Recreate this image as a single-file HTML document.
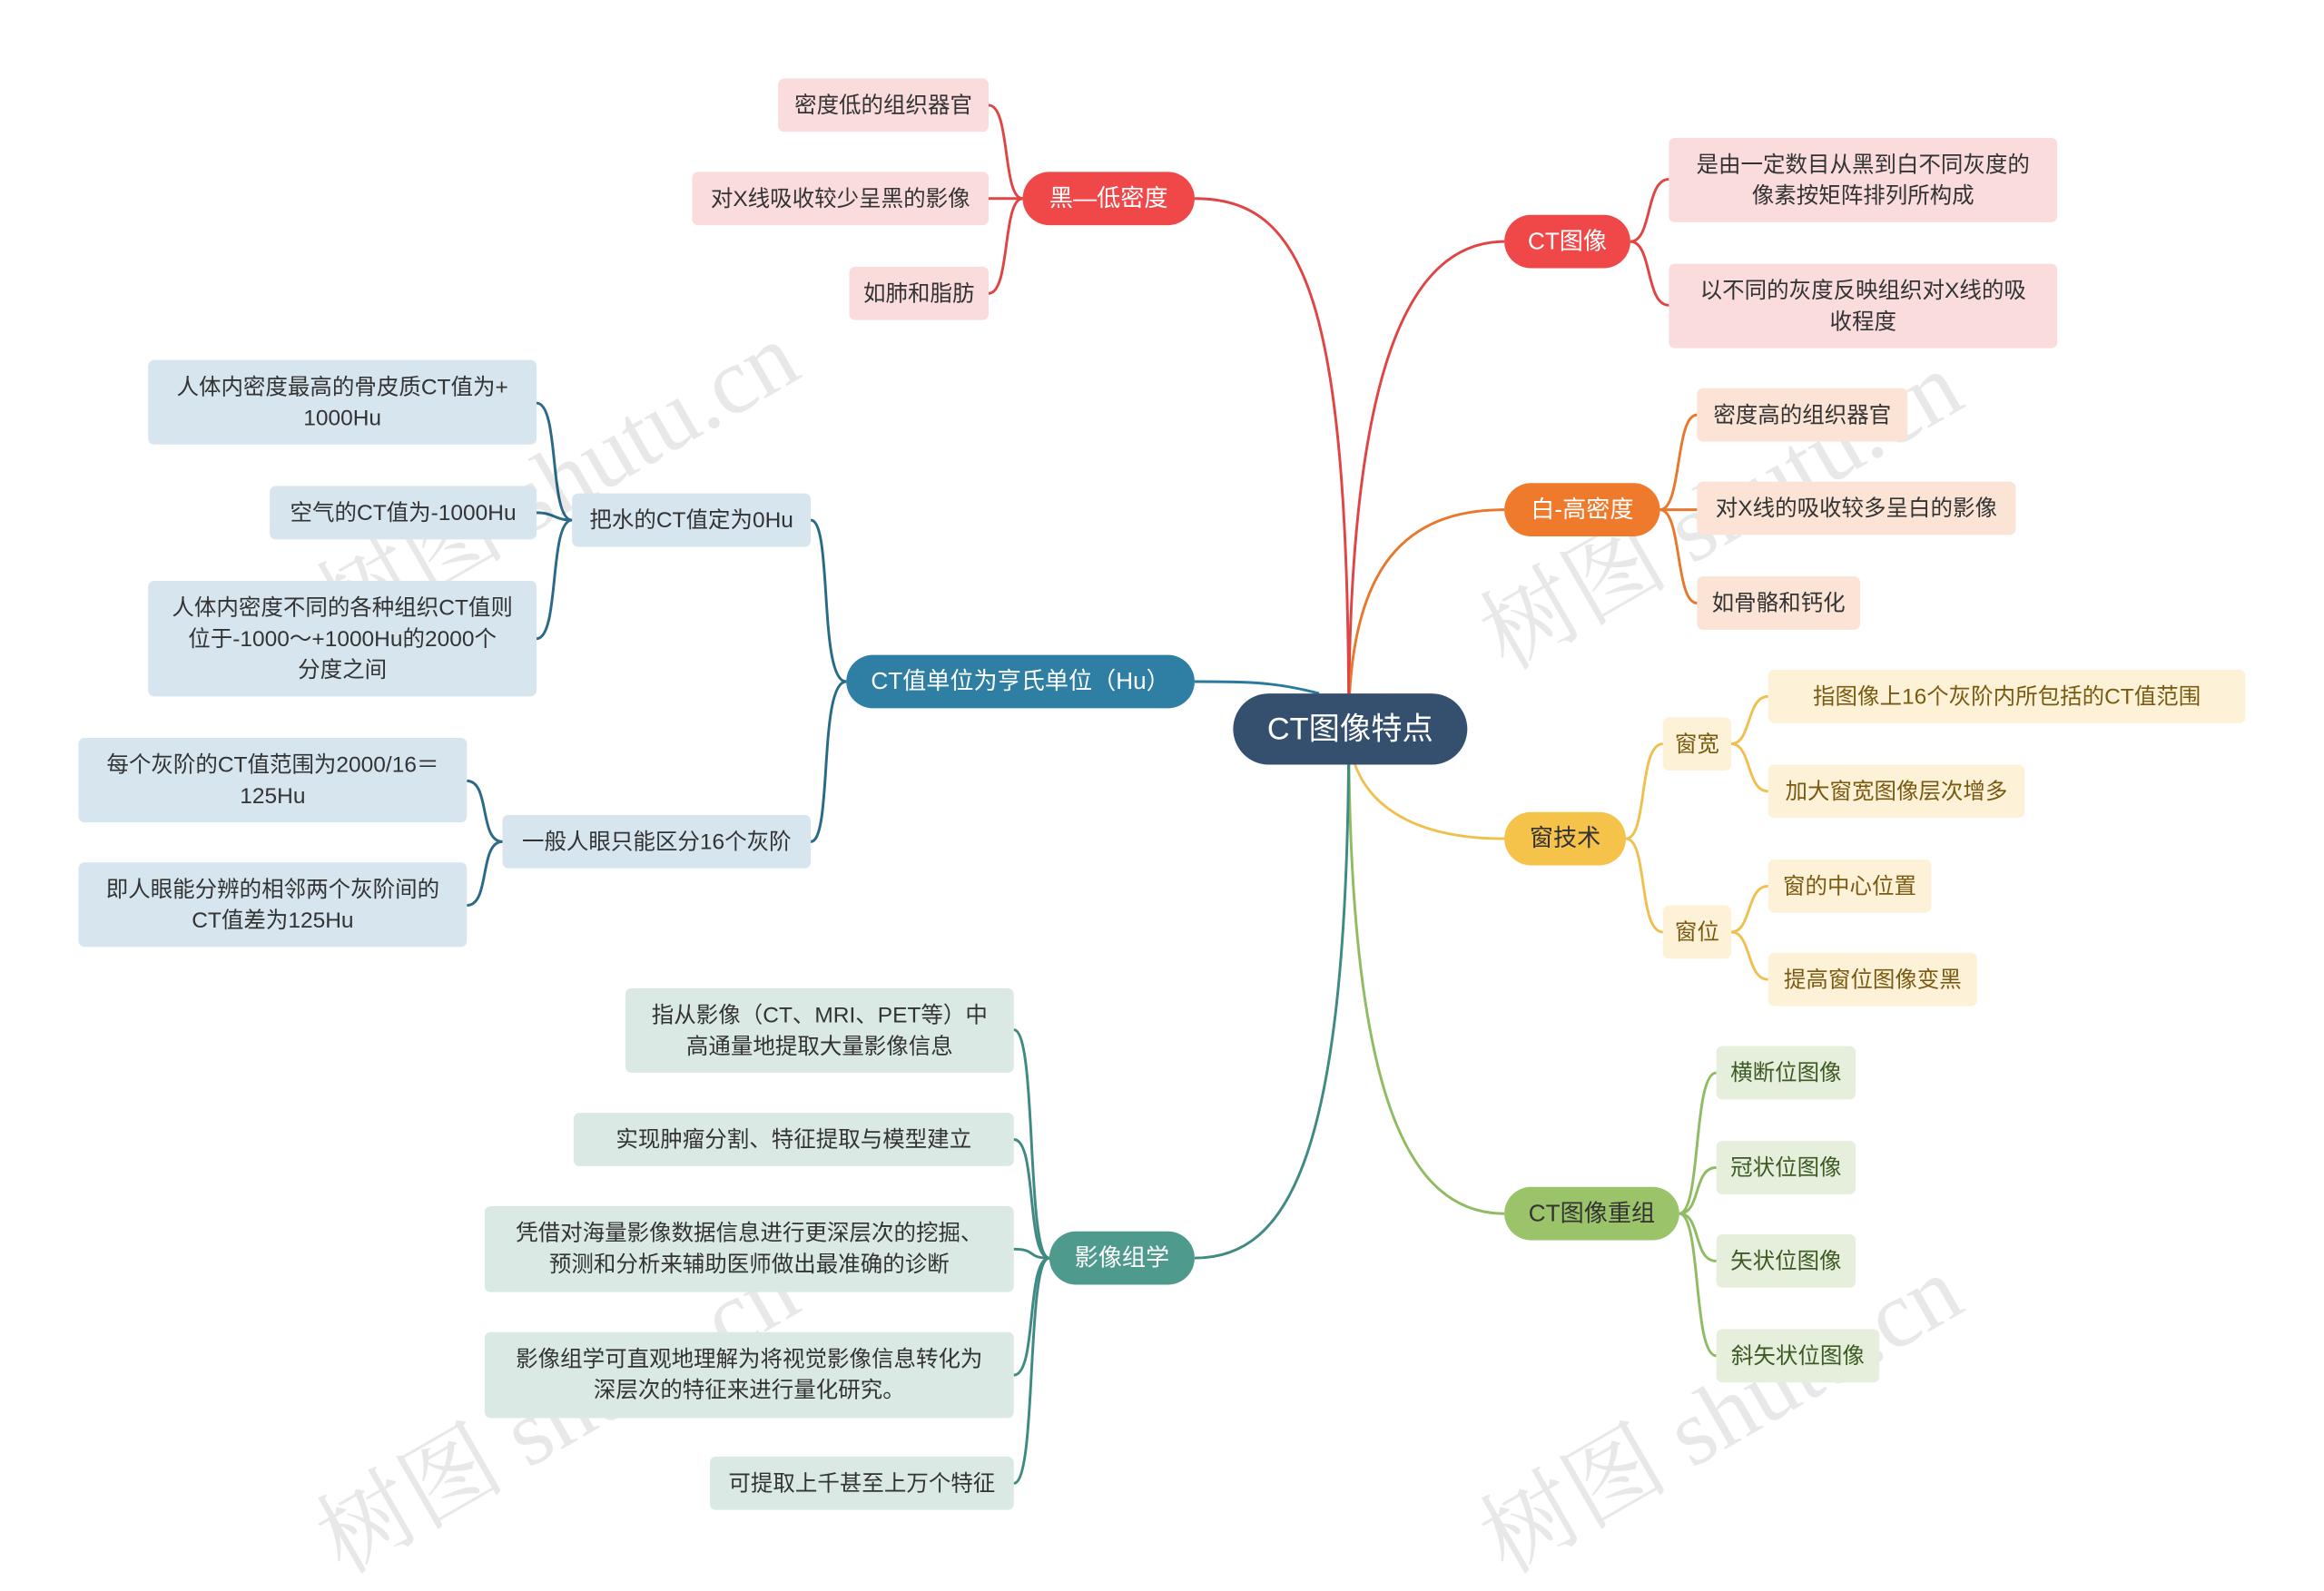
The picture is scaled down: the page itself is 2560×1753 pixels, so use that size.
<!DOCTYPE html>
<html><head><meta charset="utf-8"><style>
html,body{margin:0;padding:0;background:#fff;}
#wrap{width:2560px;height:1753px;overflow:hidden;position:relative;}
#s{position:absolute;left:0;top:0;width:1568px;height:1074px;transform:scale(1.63265);transform-origin:0 0;font-family:"Liberation Sans","Noto Sans CJK SC",sans-serif;}
.b{position:absolute;display:flex;align-items:center;justify-content:center;text-align:center;font-size:15px;line-height:21px;color:#333;border-radius:4px;box-sizing:border-box;}
.p{border-radius:18px;color:#fff;font-size:16px;}
.r{background:#fadcdc;}.o{background:#fbe4d5;}.y{background:#fdf2d8;color:#7a5a10;}.g{background:#e5efdb;color:#3d5a25;}.bl{background:#d6e5ee;}.t{background:#dbe9e5;}
.wm{position:absolute;font-size:64px;color:rgba(0,0,0,0.09);transform:rotate(-30deg);transform-origin:0 0;white-space:nowrap;font-family:"Liberation Serif","Noto Serif CJK SC",serif;}
svg{position:absolute;left:0;top:0;}
</style></head><body><div id="wrap"><div id="s">
<svg width="1568" height="1074" fill="none" stroke-width="1.8">
<path d="M910,490 C910,250 950,163 1015,163" stroke="#e04545"/>
<path d="M910,490 C910,380 950,344 1015,344" stroke="#e8782c"/>
<path d="M910,490 C910,540 950,566 1015,566" stroke="#f0c04e"/>
<path d="M910,490 C910,740 950,819 1015,819" stroke="#8fbc62"/>
<path d="M910,490 C910,200 880,134 806,134" stroke="#e04545"/>
<path d="M890,468 C860,460 840,460 806,460" stroke="#2a7aa0"/>
<path d="M910,490 C910,780 870,849 806,849" stroke="#3f8a82"/>
<g stroke="#e04545"><path d="M1100,163 C1115,163 1110,121 1126,121"/><path d="M1100,163 C1115,163 1110,206 1126,206"/>
<path d="M690,134 C676,134 682,71 667,71"/><path d="M690,134 H667"/><path d="M690,134 C676,134 682,198 667,198"/></g>
<g stroke="#e8782c"><path d="M1120,344 C1135,344 1130,280 1145,280"/><path d="M1120,344 H1145"/><path d="M1120,344 C1135,344 1130,407 1145,407"/></g>
<g stroke="#f0c04e"><path d="M1097,566 C1112,566 1105,502 1122,502"/><path d="M1097,566 C1112,566 1105,629 1122,629"/>
<path d="M1168,502 C1182,502 1178,470 1193,470"/><path d="M1168,502 C1182,502 1178,534 1193,534"/>
<path d="M1168,629 C1182,629 1178,598 1193,598"/><path d="M1168,629 C1182,629 1178,661 1193,661"/></g>
<g stroke="#8fbc62"><path d="M1133,819 C1148,819 1142,724 1158,724"/><path d="M1133,819 C1148,819 1142,788 1158,788"/><path d="M1133,819 C1148,819 1142,851 1158,851"/><path d="M1133,819 C1148,819 1142,915 1158,915"/></g>
<g stroke="#2a6a88"><path d="M571,460 C552,460 562,351 547,351"/><path d="M571,460 C552,460 562,568 547,568"/>
<path d="M386,351 C370,351 378,272 362,272"/><path d="M386,351 C374,351 374,346 362,346"/><path d="M386,351 C370,351 378,431 362,431"/>
<path d="M339,568 C323,568 331,527 315,527"/><path d="M339,568 C323,568 331,611 315,611"/></g>
<g stroke="#3f8a82"><path d="M708,849 C692,849 700,695 684,695"/><path d="M708,849 C692,849 700,769 684,769"/><path d="M708,849 C692,849 700,843 684,843"/><path d="M708,849 C692,849 700,928 684,928"/><path d="M708,849 C692,849 700,1001 684,1001"/></g>
</svg>
<div class="wm" style="left:195px;top:370px">树图 shutu.cn</div>
<div class="wm" style="left:980px;top:390px">树图 shutu.cn</div>
<div class="wm" style="left:195px;top:1000px">树图 shutu.cn</div>
<div class="wm" style="left:980px;top:1000px">树图 shutu.cn</div>

<div class="b" style="left:832px;top:468px;width:158px;height:48px;background:#34506e;color:#fff;font-size:21px;border-radius:24px">CT图像特点</div>

<div class="b p" style="left:1015px;top:145px;width:85px;height:36px;background:#f04848">CT图像</div>
<div class="b r" style="left:1126px;top:93px;width:262px;height:57px">是由一定数目从黑到白不同灰度的<br>像素按矩阵排列所构成</div>
<div class="b r" style="left:1126px;top:178px;width:262px;height:57px">以不同的灰度反映组织对X线的吸<br>收程度</div>

<div class="b p" style="left:1015px;top:326px;width:105px;height:36px;background:#ef7a2c">白-高密度</div>
<div class="b o" style="left:1145px;top:262px;width:142px;height:36px">密度高的组织器官</div>
<div class="b o" style="left:1145px;top:325px;width:215px;height:36px">对X线的吸收较多呈白的影像</div>
<div class="b o" style="left:1145px;top:389px;width:110px;height:36px">如骨骼和钙化</div>

<div class="b p" style="left:1015px;top:548px;width:82px;height:36px;background:#f5c24a;color:#333">窗技术</div>
<div class="b y" style="left:1122px;top:484px;width:46px;height:36px">窗宽</div>
<div class="b y" style="left:1122px;top:611px;width:46px;height:36px">窗位</div>
<div class="b y" style="left:1193px;top:452px;width:322px;height:36px">指图像上16个灰阶内所包括的CT值范围</div>
<div class="b y" style="left:1193px;top:516px;width:173px;height:36px">加大窗宽图像层次增多</div>
<div class="b y" style="left:1193px;top:580px;width:110px;height:36px">窗的中心位置</div>
<div class="b y" style="left:1193px;top:643px;width:141px;height:36px">提高窗位图像变黑</div>

<div class="b p" style="left:1015px;top:801px;width:118px;height:36px;background:#9bc46a;color:#333">CT图像重组</div>
<div class="b g" style="left:1158px;top:706px;width:94px;height:36px">横断位图像</div>
<div class="b g" style="left:1158px;top:770px;width:94px;height:36px">冠状位图像</div>
<div class="b g" style="left:1158px;top:833px;width:94px;height:36px">矢状位图像</div>
<div class="b g" style="left:1158px;top:897px;width:110px;height:36px">斜矢状位图像</div>

<div class="b p" style="left:690px;top:116px;width:116px;height:36px;background:#f04848">黑—低密度</div>
<div class="b r" style="left:525px;top:53px;width:142px;height:36px">密度低的组织器官</div>
<div class="b r" style="left:467px;top:116px;width:200px;height:36px">对X线吸收较少呈黑的影像</div>
<div class="b r" style="left:573px;top:180px;width:94px;height:36px">如肺和脂肪</div>

<div class="b p" style="left:571px;top:442px;width:235px;height:36px;background:#2e7fa3">CT值单位为亨氏单位（Hu）</div>
<div class="b bl" style="left:386px;top:333px;width:161px;height:36px">把水的CT值定为0Hu</div>
<div class="b bl" style="left:339px;top:550px;width:208px;height:36px">一般人眼只能区分16个灰阶</div>
<div class="b bl" style="left:100px;top:243px;width:262px;height:57px">人体内密度最高的骨皮质CT值为+<br>1000Hu</div>
<div class="b bl" style="left:182px;top:328px;width:180px;height:36px">空气的CT值为-1000Hu</div>
<div class="b bl" style="left:100px;top:392px;width:262px;height:78px">人体内密度不同的各种组织CT值则<br>位于-1000～+1000Hu的2000个<br>分度之间</div>
<div class="b bl" style="left:53px;top:498px;width:262px;height:57px">每个灰阶的CT值范围为2000/16＝<br>125Hu</div>
<div class="b bl" style="left:53px;top:582px;width:262px;height:57px">即人眼能分辨的相邻两个灰阶间的<br>CT值差为125Hu</div>

<div class="b p" style="left:708px;top:831px;width:98px;height:36px;background:#4e9a8c">影像组学</div>
<div class="b t" style="left:422px;top:667px;width:262px;height:57px">指从影像（CT、MRI、PET等）中<br>高通量地提取大量影像信息</div>
<div class="b t" style="left:387px;top:751px;width:297px;height:36px">实现肿瘤分割、特征提取与模型建立</div>
<div class="b t" style="left:327px;top:814px;width:357px;height:58px">凭借对海量影像数据信息进行更深层次的挖掘、<br>预测和分析来辅助医师做出最准确的诊断</div>
<div class="b t" style="left:327px;top:899px;width:357px;height:58px">影像组学可直观地理解为将视觉影像信息转化为<br>深层次的特征来进行量化研究。</div>
<div class="b t" style="left:479px;top:983px;width:205px;height:36px">可提取上千甚至上万个特征</div>
</div></div></body></html>
